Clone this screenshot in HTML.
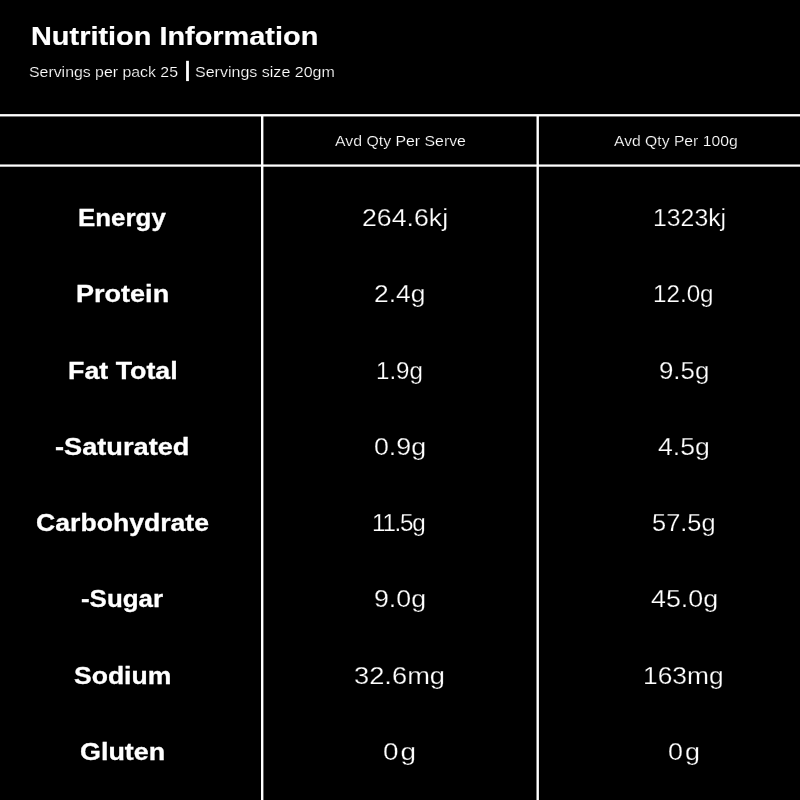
<!DOCTYPE html>
<html lang="en"><head><meta charset="utf-8"><title>Nutrition Information</title>
<style>
html,body{margin:0;padding:0;background:#000;}
body{width:800px;height:800px;position:relative;overflow:hidden;color:#fff;font-family:'Liberation Sans',sans-serif;}
.t{position:absolute;white-space:nowrap;margin:0;transform-origin:0 0;}
.tt{font-size:26.4px;line-height:26.4px;font-weight:700;-webkit-text-stroke:0.2px #fff;}
.b{font-size:24.8px;line-height:24.8px;font-weight:700;-webkit-text-stroke:0.3px #fff;}
.r{font-size:24.75px;line-height:24.75px;font-weight:400;-webkit-text-stroke:0.25px #000;}
.s{font-size:14.8px;line-height:14.8px;font-weight:400;-webkit-text-stroke:0.2px #000;}
.g{position:absolute;left:0;top:0;}

</style></head><body>
<svg class="g" width="800" height="800" viewBox="0 0 800 800" fill="#fff">
<rect x="0" y="114.1" width="800" height="2.35"/>
<rect x="0" y="164.45" width="800" height="2.25"/>
<rect x="261.0" y="115" width="2.4" height="685"/>
<rect x="536.5" y="115" width="2.4" height="685"/>
<rect x="186.1" y="60.8" width="2.8" height="20.3"/>
</svg>
<div class="t tt" style="left:30.68px;top:23px;transform:scaleX(1.0948)">Nutrition Information</div>
<div class="t s" style="left:28.64px;top:65px;transform:scaleX(1.0718)">Servings per pack 25</div>
<div class="t s" style="left:194.72px;top:65px;transform:scaleX(1.0830)">Servings size 20gm</div>
<div class="t s" style="left:334.69px;top:134px;transform:scaleX(1.0709)">Avd Qty Per Serve</div>
<div class="t s" style="left:613.55px;top:134px;transform:scaleX(1.0608)">Avd Qty Per 100g</div>
<div class="t b" style="left:77.70px;top:206px;transform:scaleX(1.0442)">Energy</div>
<div class="t b" style="left:75.58px;top:282px;transform:scaleX(1.0904)">Protein</div>
<div class="t b" style="left:67.61px;top:359px;transform:scaleX(1.0812)">Fat Total</div>
<div class="t b" style="left:54.51px;top:435px;transform:scaleX(1.0966)">-Saturated</div>
<div class="t b" style="left:35.52px;top:511px;transform:scaleX(1.0733)">Carbohydrate</div>
<div class="t b" style="left:80.68px;top:587px;transform:scaleX(1.0444)">-Sugar</div>
<div class="t b" style="left:73.71px;top:664px;transform:scaleX(1.0702)">Sodium</div>
<div class="t b" style="left:79.73px;top:740px;transform:scaleX(1.0846)">Gluten</div>
<div class="t r" style="left:361.73px;top:206px;transform:scaleX(1.0795)">264.6kj</div>
<div class="t r" style="left:373.62px;top:282px;transform:scaleX(1.0664)">2.4g</div>
<div class="t r" style="left:375.55px;top:359px;transform:scaleX(0.9749)">1.9g</div>
<div class="t r" style="left:373.50px;top:435px;transform:scaleX(1.0800)">0.9g</div>
<div class="t r" style="left:371.63px;top:511px;letter-spacing:-1.30px;transform:scaleX(0.9796)">11.5g</div>
<div class="t r" style="left:373.74px;top:587px;transform:scaleX(1.0793)">9.0g</div>
<div class="t r" style="left:353.55px;top:664px;transform:scaleX(1.1029)">32.6mg</div>
<div class="t r" style="left:382.62px;top:740px;letter-spacing:1.80px;transform:scaleX(1.1270)">0g</div>
<div class="t r" style="left:652.52px;top:206px;transform:scaleX(1.0024)">1323kj</div>
<div class="t r" style="left:652.54px;top:282px;transform:scaleX(0.9780)">12.0g</div>
<div class="t r" style="left:658.61px;top:359px;transform:scaleX(1.0434)">9.5g</div>
<div class="t r" style="left:657.56px;top:435px;transform:scaleX(1.0753)">4.5g</div>
<div class="t r" style="left:651.55px;top:511px;transform:scaleX(1.0265)">57.5g</div>
<div class="t r" style="left:650.55px;top:587px;transform:scaleX(1.0839)">45.0g</div>
<div class="t r" style="left:642.68px;top:664px;transform:scaleX(1.0645)">163mg</div>
<div class="t r" style="left:667.66px;top:740px;letter-spacing:1.80px;transform:scaleX(1.0865)">0g</div>
</body></html>
